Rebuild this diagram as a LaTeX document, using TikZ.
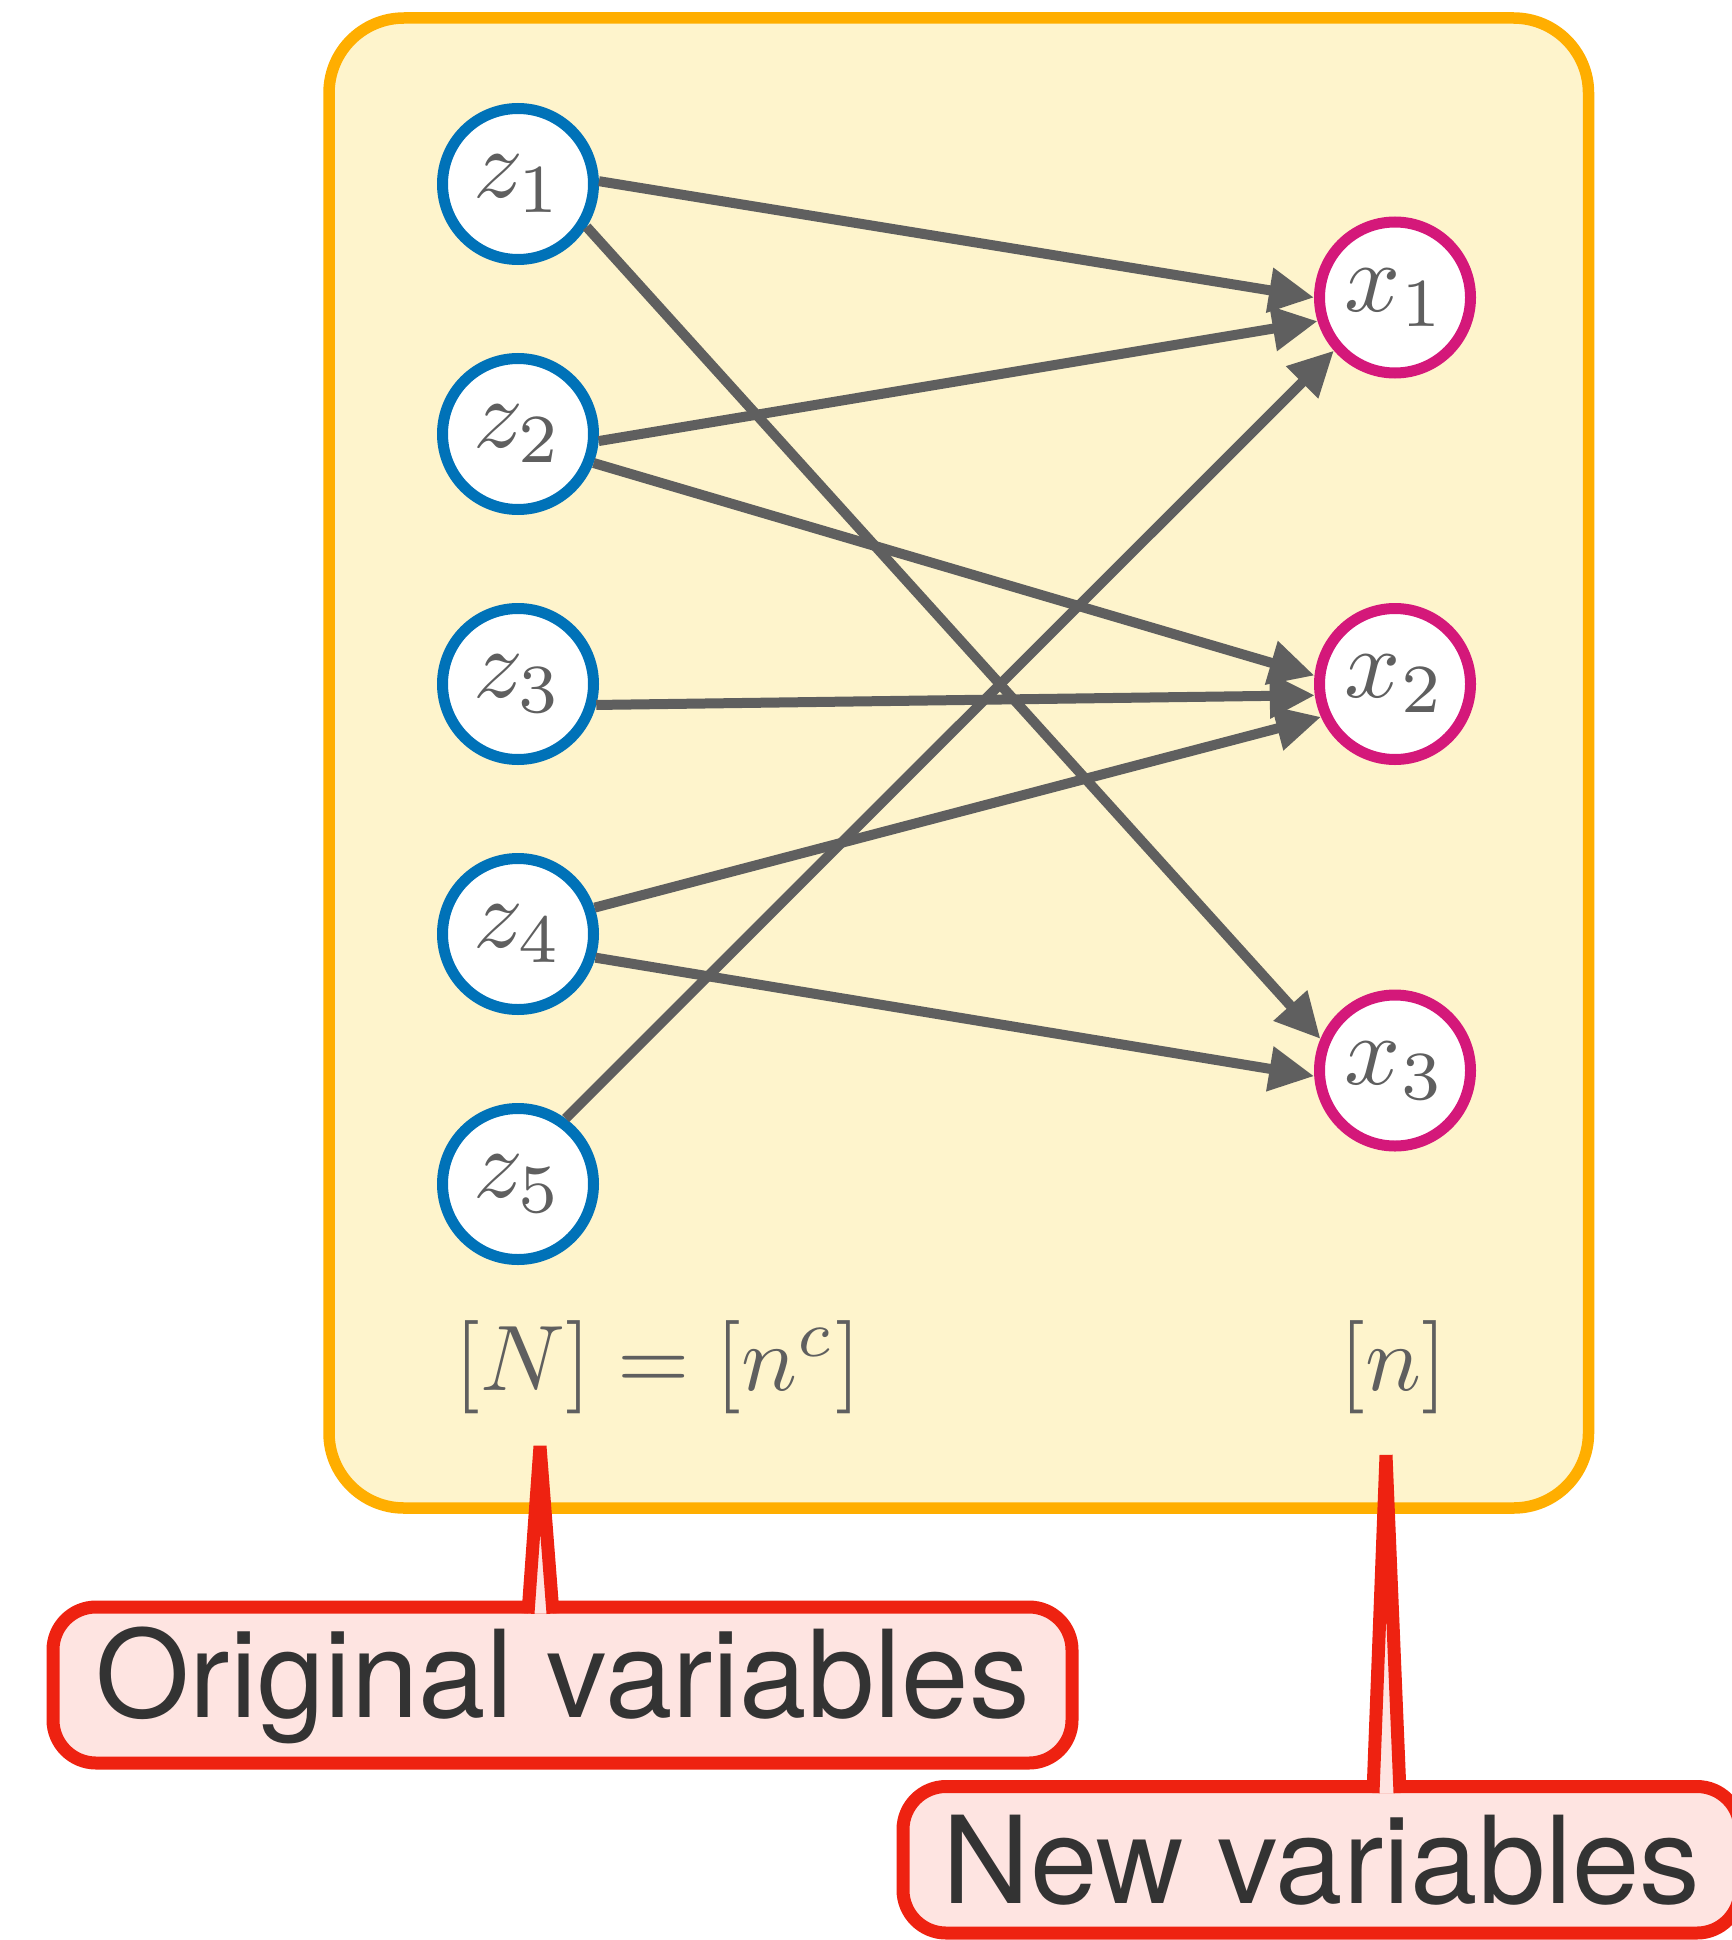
\documentclass[tikz,border=0pt]{standalone}
\usepackage{amsmath}
\usepackage{graphicx}
\usepackage{xcolor}
\usepackage{fontspec}
\newfontfamily\calloutfont{TeX Gyre Heros}
\usetikzlibrary{positioning,arrows.meta,calc}

\definecolor{panelfill}{RGB}{254,244,204}
\definecolor{paneldraw}{RGB}{255,174,0}
\definecolor{zblue}{RGB}{0,114,184}
\definecolor{xmagenta}{RGB}{212,24,122}
\definecolor{edgegray}{RGB}{95,95,95}
\definecolor{calloutred}{RGB}{238,34,17}
\definecolor{calloutpink}{RGB}{254,228,225}
\definecolor{callouttext}{RGB}{51,51,51}

% math set at 10pt and blown up, keeps the heavier 10pt design
\newcommand{\biglabel}[2]{\scalebox{#1}{$#2$}}

\begin{document}
\begin{tikzpicture}[>={Triangle[length=4.5mm,width=4.3mm]},
  varnode/.style={circle, draw, line width=1.1mm, fill=white, minimum size=1.51cm,
                  inner sep=0pt, text=edgegray},
  zvar/.style={varnode, draw=zblue},
  xvar/.style={varnode, draw=xmagenta},
  link/.style={->, line width=1mm, draw=edgegray},
  setlabel/.style={anchor=base, text=edgegray},
  callout/.style={draw=calloutred, fill=calloutpink, line width=1.3mm, rounded corners=0.43cm,
                  inner sep=0pt, outer sep=0pt, text=callouttext,
                  font=\calloutfont\fontsize{34.5}{40}\selectfont},
  pointer/.style={draw=calloutred, line width=1.3mm}]

  \useasboundingbox (0,0) rectangle (17.31,-19.40);

  %% ─── Panel ──────────────────────────────────────────────────────────────
  \draw[draw=paneldraw, fill=panelfill, line width=1.15mm, rounded corners=0.75cm]
      (3.29,-0.18) rectangle (15.885,-15.08);

  %% ─── Original variables z ───────────────────────────────────────────────
  \node[zvar] (z1) at (5.18,-1.84) {\biglabel{2.8}{z_1}};
  \node[zvar, below=0.88cm of z1] (z2) {\biglabel{2.8}{z_2}};
  \node[zvar, below=0.88cm of z2] (z3) {\biglabel{2.8}{z_3}};
  \node[zvar, below=0.88cm of z3] (z4) {\biglabel{2.8}{z_4}};
  \node[zvar, below=0.88cm of z4] (z5) {\biglabel{2.8}{z_5}};

  %% ─── New variables x ────────────────────────────────────────────────────
  \node[xvar] (x1) at (13.95,-2.975) {\biglabel{2.8}{x_1}};
  \node[xvar, below=2.245cm of x1] (x2) {\biglabel{2.8}{x_2}};
  \node[xvar, below=2.245cm of x2] (x3) {\biglabel{2.8}{x_3}};

  %% ─── Links ──────────────────────────────────────────────────────────────
  \draw[link] (z1.2)   -- (x1.180);
  \draw[link] (z1.-32) -- (x3.157);
  \draw[link] (z2.-5)  -- (x1.-163);
  \draw[link] (z2.-21) -- (x2.174);
  \draw[link] (z3.-15) -- (x2.-172);
  \draw[link] (z4.19)  -- (x2.-156);
  \draw[link] (z4.-17) -- (x3.-176);
  \draw[link] (z5.54)  -- (x1.-139);

  %% index sets
  \node[setlabel] (zset) at (6.58,-13.90) {\biglabel{2.65}{[N]=[n^c]}};
  \node[setlabel] (xset) at (13.935,-13.90) {\biglabel{2.65}{[n]}};

  %% ─── Callouts ───────────────────────────────────────────────────────────
  \node[callout, minimum width=10.19cm, minimum height=1.56cm] (orig)
      at (5.625,-16.85) {Original variables};
  \node[callout, minimum width=8.37cm, minimum height=1.465cm] (new)
      at (13.215,-18.5975) {New variables};

  \coordinate (orig_tip) at (5.40,-14.46);
  \coordinate (new_tip) at (13.86,-14.55);

  \fill[calloutpink] ([xshift=-3.45mm,yshift=-0.65mm]orig.north) -- (orig_tip)
      -- ([xshift=-0.95mm,yshift=-0.65mm]orig.north) -- cycle;
  \draw[pointer] ([xshift=-3.45mm,yshift=-0.65mm]orig.north) -- (orig_tip)
      -- ([xshift=-0.95mm,yshift=-0.65mm]orig.north);

  \fill[calloutpink] ([xshift=5.15mm,yshift=-0.65mm]new.north) -- (new_tip)
      -- ([xshift=7.85mm,yshift=-0.65mm]new.north) -- cycle;
  \draw[pointer] ([xshift=5.15mm,yshift=-0.65mm]new.north) -- (new_tip)
      -- ([xshift=7.85mm,yshift=-0.65mm]new.north);

\end{tikzpicture}
\end{document}
